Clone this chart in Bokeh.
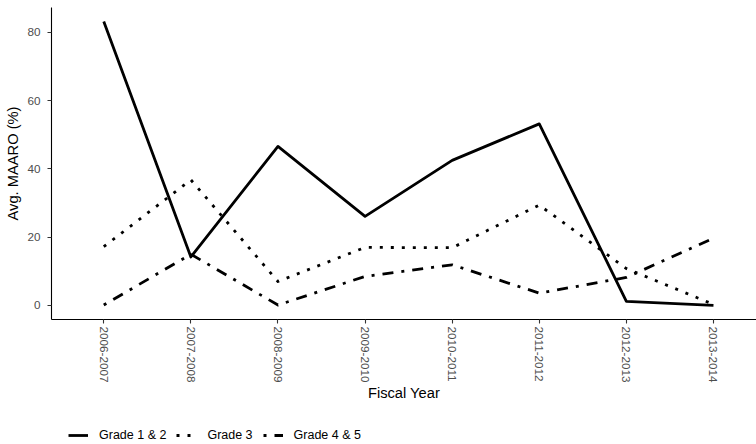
import math
from bokeh.plotting import figure
from bokeh.models import Range1d, FixedTicker, Legend, LegendItem
from bokeh.layouts import column
from bokeh.embed import file_html
from bokeh.resources import INLINE

years = ["2006-2007", "2007-2008", "2008-2009", "2009-2010",
         "2010-2011", "2011-2012", "2012-2013", "2013-2014"]
grade_1_2 = [83.2, 14.2, 46.6, 26.1, 42.5, 53.2, 1.2, 0.0]
grade_3 = [17.2, 36.8, 7.0, 17.0, 16.9, 29.4, 10.8, 0.3]
grade_4_5 = [0.1, 15.0, 0.1, 8.5, 11.9, 3.6, 8.2, 19.7]
labels = ["Grade 1 & 2", "Grade 3", "Grade 4 & 5"]
dashes = ["solid", "3 8", "3 8 11 8"]
y_ticks = [0, 20, 40, 60, 80]

xpos = list(range(1, len(years) + 1))
series = [grade_1_2, grade_3, grade_4_5]

FONT = "Liberation Sans"
common = dict(line_color="black", line_width=2.8, line_join="round", line_cap="butt")

p = figure(width=756, height=410, output_backend="svg", toolbar_location=None,
           x_range=Range1d(0.4, 8.494), y_range=Range1d(-4.13, 87.3),
           min_border_left=51, min_border_right=0, min_border_top=7,
           min_border_bottom=91)
p.outline_line_color = None
p.xgrid.visible = False
p.ygrid.visible = False
p.background_fill_color = "white"

for vals, dash in zip(series, dashes):
    p.line(xpos, vals, line_dash=dash, **common)

# x axis
xa = p.xaxis[0]
xa.ticker = FixedTicker(ticks=xpos)
xa.major_label_overrides = {i: lab for i, lab in zip(xpos, years)}
xa.major_label_orientation = -math.pi / 2
xa.major_tick_out = 4
xa.major_tick_in = 0
xa.minor_tick_out = 0
xa.minor_tick_in = 0
xa.major_label_standoff = 3
xa.axis_label = "Fiscal Year"
xa.axis_label_standoff = 0
xa.axis_label_text_font = FONT
xa.axis_label_text_font_size = "14.7px"
xa.axis_label_text_font_style = "normal"
xa.axis_label_text_color = "black"
xa.major_label_text_font = FONT
xa.major_label_text_font_size = "11.7px"
xa.major_label_text_color = "#4d4d4d"
xa.axis_line_color = "black"
xa.axis_line_width = 1.1
xa.major_tick_line_color = "#333333"
xa.major_tick_line_width = 1.1

# y axis
ya = p.yaxis[0]
ya.ticker = FixedTicker(ticks=y_ticks)
ya.major_tick_out = 4
ya.major_tick_in = 0
ya.minor_tick_out = 0
ya.minor_tick_in = 0
ya.major_label_standoff = 7
ya.axis_label = "Avg. MAARO (%)"
ya.axis_label_standoff = 3
ya.axis_label_text_font = FONT
ya.axis_label_text_font_size = "14.7px"
ya.axis_label_text_font_style = "normal"
ya.axis_label_text_color = "black"
ya.major_label_text_font = FONT
ya.major_label_text_font_size = "11.7px"
ya.major_label_text_color = "#4d4d4d"
ya.axis_line_color = "black"
ya.axis_line_width = 1.1
ya.major_tick_line_color = "#333333"
ya.major_tick_line_width = 1.1

# legend strip (keys reuse the same series, hidden from view)
pl = figure(width=756, height=34, output_backend="svg", toolbar_location=None,
            x_axis_type=None, y_axis_type=None,
            x_range=Range1d(0, 1), y_range=Range1d(0, 1),
            min_border_left=0, min_border_right=0, min_border_top=0,
            min_border_bottom=0)
pl.outline_line_color = None
items = []
for vals, dash, lab in zip(series, dashes, labels):
    r = pl.line(xpos, vals, line_dash=dash, visible=False, **common)
    items.append(LegendItem(label=lab, renderers=[r]))

legend = Legend(items=items, location=(17, 2), orientation="horizontal",
                border_line_color=None, background_fill_alpha=0,
                padding=0, margin=0, spacing=10,
                glyph_width=20, glyph_height=14, label_height=14,
                label_standoff=11, click_policy="none",
                label_text_font=FONT, label_text_font_size="12.5px",
                label_text_color="black")
pl.add_layout(legend, "center")

layout = column(p, pl, spacing=0)
open("out.html", "w").write(file_html(layout, INLINE))
